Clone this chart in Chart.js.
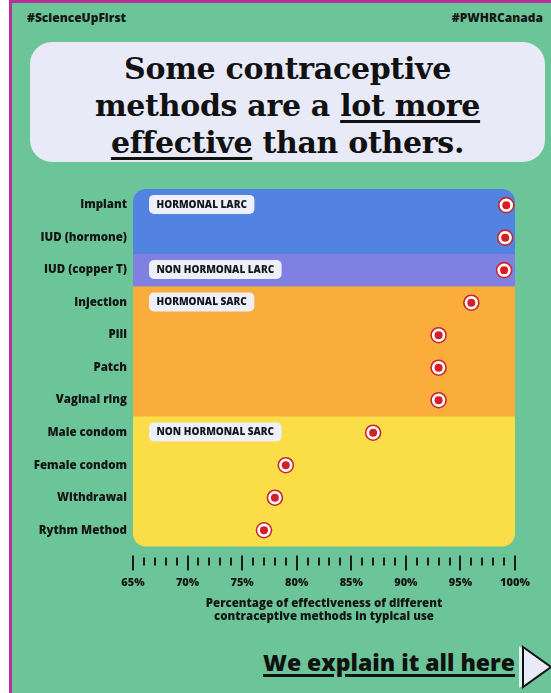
<!DOCTYPE html>
<html>
<head>
<meta charset="utf-8">
<script src="https://cdn.jsdelivr.net/npm/chart.js@4.4.1/dist/chart.umd.min.js"></script>
<style>
  html, body { margin:0; padding:0; }
  body { width:551px; height:693px; position:relative; overflow:hidden; background:#fff; font-family:'Open Sans', sans-serif; }
  .page { position:absolute; left:9px; top:0; width:542px; height:693px; background:#6cc598; border-left:3px solid #b8309a; border-top:3px solid #b8309a; box-sizing:border-box; }
  .tag { position:absolute; top:9px; font-weight:800; font-size:12px; color:#161616; }
  .title { position:absolute; left:30px; top:42px; width:515px; height:120px; border-radius:22px; background:#e8eaf8;
           font-family:'DejaVu Serif', serif; font-weight:bold; font-size:30px; line-height:37px; text-align:center; color:#111;
           box-sizing:border-box; padding-top:8px; letter-spacing:-0.3px; }
  .title u { text-decoration-thickness:3px; text-underline-offset:4px; }
  #wrap { position:absolute; left:0; top:176px; width:551px; height:447px; }
  .link { position:absolute; left:263px; top:646px; font-weight:800; font-size:23px; color:#111; text-decoration:underline; text-decoration-thickness:2.5px; text-underline-offset:3px; }
  .play { position:absolute; left:516px; top:644px; }
</style>
</head>
<body>
<div class="page"></div>
<div class="tag" style="left:27px">#ScienceUpFirst</div>
<div class="tag" style="right:8px">#PWHRCanada</div>
<div class="title">Some contraceptive<br>methods are a <u>lot more</u><br><u>effective</u> than others.</div>
<div id="wrap"><canvas id="chart"></canvas></div>
<div class="link">We explain it all here</div>
<svg class="play" width="36" height="46" viewBox="0 0 36 46">
  <polygon points="3,2 33,23 3,44" fill="#d9f1f0" />
  <polygon points="7,3 35,23 7,43" fill="#e8eaf8" stroke="#111" stroke-width="2" />
</svg>
<script>
const methods = ['Implant','IUD (hormone)','IUD (copper T)','Injection','Pill','Patch','Vaginal ring','Male condom','Female condom','Withdrawal','Rythm Method'];
const effectiveness = [99.2, 99.1, 99.0, 96, 93, 93, 93, 87, 79, 78, 77];
const groupNames = ['HORMONAL LARC','NON HORMONAL LARC','HORMONAL SARC','NON HORMONAL SARC'];
const groupFirst = [0, 2, 3, 7];
const groupLast = [1, 2, 6, 10];
const xMin = 65, xMax = 100;

const groupColors = ['#5282e2','#8080e2','#fbad3b','#fbdd47'];

function roundRect(ctx, x, y, w, h, r){
  ctx.beginPath();
  ctx.moveTo(x+r, y);
  ctx.arcTo(x+w, y, x+w, y+h, r);
  ctx.arcTo(x+w, y+h, x, y+h, r);
  ctx.arcTo(x, y+h, x, y, r);
  ctx.arcTo(x, y, x+w, y, r);
  ctx.closePath();
}

const bandsPlugin = {
  id:'bands',
  beforeDatasetsDraw(chart){
    const {ctx, chartArea:a, scales:{y}} = chart;
    const step = y.getPixelForValue(1) - y.getPixelForValue(0);
    ctx.save();
    roundRect(ctx, a.left, a.top, a.right-a.left, a.bottom-a.top, 13);
    ctx.clip();
    groupNames.forEach((g,i)=>{
      const top = i === 0 ? a.top : y.getPixelForValue(groupFirst[i]) - step/2;
      const bot = i === groupNames.length-1 ? a.bottom : y.getPixelForValue(groupLast[i]) + step/2;
      ctx.fillStyle = groupColors[i];
      ctx.fillRect(a.left, top, a.right-a.left, bot-top+0.5);
    });
    ctx.restore();
    // badges
    ctx.save();
    ctx.font = '800 10px "Open Sans"';
    ctx.textBaseline = 'middle';
    groupNames.forEach((g,i)=>{
      const top = (i === 0 ? a.top : y.getPixelForValue(groupFirst[i]) - step/2) + 6;
      const w = ctx.measureText(g).width + 15;
      ctx.fillStyle = '#eef0f9';
      roundRect(ctx, a.left+16, top, w, 19, 5);
      ctx.fill();
      ctx.fillStyle = '#16161e';
      ctx.fillText(g, a.left+23.5, top+10);
    });
    ctx.restore();
  },
  afterDraw(chart){
    const {ctx, chartArea:a, scales:{x}} = chart;
    ctx.save();
    ctx.strokeStyle = '#1c1c1c';
    ctx.lineWidth = 2;
    x.ticks.forEach(t=>{
      const px = Math.round(x.getPixelForValue(t.value));
      const major = t.value % 5 === 0;
      ctx.beginPath();
      ctx.moveTo(px, a.bottom + (major ? 9 : 11));
      ctx.lineTo(px, a.bottom + (major ? 24 : 19));
      ctx.stroke();
    });
    ctx.restore();
  }
};

const pts = methods.map((m,i)=>({x:effectiveness[i], y:m}));

new Chart(document.getElementById('chart'), {
  type:'scatter',
  data:{
    labels: methods,
    datasets:[
      { data: pts, pointRadius:4, backgroundColor:'#d41f27', borderWidth:0, order:0 },
      { data: pts, pointRadius:7.5, backgroundColor:'#ffffff', borderColor:'#c9252b', borderWidth:1.6, order:1 }
    ]
  },
  options:{
    responsive:true, maintainAspectRatio:false, animation:false, events:[],
    layout:{ padding:{ top:12, right:36, left:0, bottom:0 } },
    plugins:{ legend:{ display:false }, tooltip:{ enabled:false } },
    scales:{
      x:{
        type:'linear', min:xMin, max:xMax,
        grid:{ drawOnChartArea:false, tickLength:25, tickColor:'transparent' },
        border:{ display:false },
        ticks:{ stepSize:1, autoSkip:false, maxRotation:0, padding:5, color:'#151515',
                font:{ family:'Open Sans', weight:'800', size:11 },
                callback:v => v % 5 === 0 ? v + '%' : '' },
        title:{ display:true, text:['Percentage of effectiveness of different','contraceptive methods in typical use'],
                color:'#151515', font:{ family:'Open Sans', weight:'800', size:11.5, lineHeight:1.1 }, padding:{ top:3, bottom:0 } }
      },
      y:{
        type:'category', labels: methods, offset:true,
        grid:{ display:false, drawTicks:false }, border:{ display:false },
        afterFit(s){ s.width = 133; },
        ticks:{ padding:6, color:'#151515', font:{ family:'Open Sans', weight:'800', size:11.5 } }
      }
    }
  },
  plugins:[bandsPlugin]
});
</script>
</body>
</html>
